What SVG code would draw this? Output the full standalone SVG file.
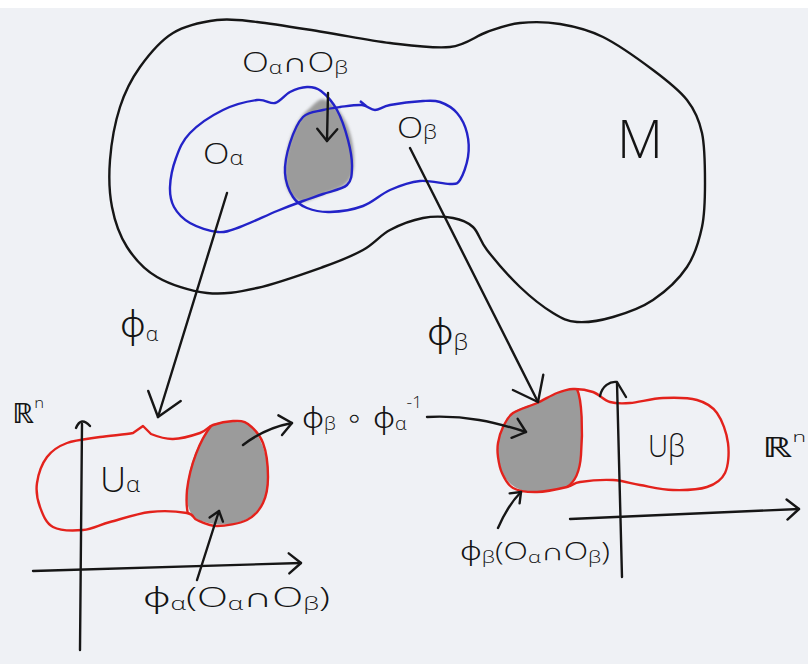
<svg xmlns="http://www.w3.org/2000/svg" width="808" height="664" viewBox="0 0 808 664">
<style>
.ink{fill:none;stroke:#161616;stroke-width:2.4;stroke-linecap:round;stroke-linejoin:round}
.blue{fill:none;stroke:#2323c8;stroke-width:2.4;stroke-linejoin:round}
.red{fill:none;stroke:#e3221c;stroke-width:2.4;stroke-linejoin:round}
.shade{fill:#9b9b9b;stroke:none}
.t{font-family:"Open Sans","Noto Sans","DejaVu Sans",sans-serif;font-weight:300;fill:#141414}
.light{font-family:"Open Sans","Noto Sans","DejaVu Sans",sans-serif;font-weight:300;fill:#141414}
</style>
<defs>
<marker id="big" markerUnits="userSpaceOnUse" orient="auto" markerWidth="40" markerHeight="40" refX="0" refY="0" overflow="visible">
<path d="M-22,-17 L0,0 L-22,17" fill="none" stroke="#161616" stroke-width="2.4" stroke-linecap="round" stroke-linejoin="round"/>
</marker>
<marker id="mid" markerUnits="userSpaceOnUse" orient="auto" markerWidth="30" markerHeight="30" refX="0" refY="0" overflow="visible">
<path d="M-12,-10 L0,0 L-12,10" fill="none" stroke="#161616" stroke-width="2.4" stroke-linecap="round" stroke-linejoin="round"/>
</marker>
<marker id="small" markerUnits="userSpaceOnUse" orient="auto" markerWidth="20" markerHeight="20" refX="0" refY="0" overflow="visible">
<path d="M-9,-7 L0,0 L-9,7" fill="none" stroke="#161616" stroke-width="2.4" stroke-linecap="round" stroke-linejoin="round"/>
</marker>
<filter id="soft" x="-20%" y="-20%" width="140%" height="140%"><feGaussianBlur stdDeviation="1.6"/></filter>
</defs>
<rect x="0" y="0" width="808" height="664" fill="#eff1f5"/>
<rect x="0" y="0" width="808" height="8" fill="#ffffff"/>

<g id="manifold-M">
<path class="ink" d="M217,20 C231,18.2 239.3,20 257,22 S300.8,28.5 323,32 S368.8,40.5 390,43 S433.8,48.8 450,47 S475.3,36 487,32 S507.8,24.3 520,23 S546.2,21.7 560,24 S587.5,29.3 603,37 S639,59.5 653,70 S678.8,89.5 687,100 S699,119.2 702,133 S705,167.3 705,183 S705,213 702,227 S695.2,254.8 687,267 S665.3,291.7 653,300 S625.7,313.3 613,317 S587,322.7 577,322 S562.5,318.8 553,313 S531,297.5 520,287 S494.8,260 487,250 S478.7,232.3 473,227 S461.3,219.5 453,218 S433.5,216 423,218 S400,224.7 390,230 S374.2,243.8 363,250 S340.7,260.7 323,267 S276.3,283.7 257,288 S223.7,294.8 207,293 S170.3,284.7 157,277 S134.5,258.7 127,247 S114.8,221.5 112,207 S108.7,176.7 110,160 S115,122.5 120,107 S131.2,79.3 140,67 S160.2,40.8 173,33 S203,21.8 217,20 Z"/>
<text class="light" x="617" y="158" font-size="54" textLength="46" lengthAdjust="spacingAndGlyphs">M</text>
</g>

<g id="intersection-shade">
<path class="shade" filter="url(#soft)" d="M323,99 C340,104 354,130 354,160 C354,178 349,186 330,192 C315,197 305,203 300,202 C290,198 284,185 285,170 C286,145 295,120 310,108 C315,103 319,99 323,99 Z"/>
</g>

<g id="O-alpha">
<path class="blue" d="M170,187 C170.3,178.8 172.7,167 176,158 S182.2,141 190,133 S211.8,115.5 223,110 S248.3,101.2 257,100 S269.5,104.3 275,103 S284.7,94.7 290,92 S301.8,87.2 307,87 S316,87.2 321,91 S332.5,101.8 337,110 S345.5,130.5 348,140 S352.2,159.5 352,167 S351.8,180.5 347,185 S330.3,191.3 323,194 S310.7,198.2 303,201 S287.5,206.7 277,211 S249.8,223.5 240,227 S226.3,232.7 218,232 S197.3,227.2 190,223 S177.3,213 174,207 S169.7,195.2 170,187 Z"/>
<text class="t" x="203" y="164" font-size="30" textLength="40" lengthAdjust="spacingAndGlyphs">O<tspan font-size="20" dy="1">α</tspan></text>
</g>

<g id="O-beta">
<path class="blue" d="M323,110 C329.2,108.3 333.5,107.8 340,107 S356.2,104.5 362,105 S370.3,110 375,110 S382,106.5 390,105 S414.7,101.5 423,101 S434.3,100 440,102 S452.5,107.8 457,113 S465.2,125.7 467,133 S469.2,149.2 468,157 S463,175.5 460,180 S456.7,183.8 450,184 S430,180 420,181 S399.5,185.8 390,190 S373,202.3 363,206 S339.3,211.7 330,212 S313.2,210.5 307,208 S296.7,202.8 293,197 S285.5,182 285,173 S287,152.3 290,143 S297.5,122.5 303,117 S316.8,111.7 323,110 Z"/>
<path class="blue" d="M360,101 L366,106"/>
<text class="t" x="397" y="138" font-size="30" textLength="40" lengthAdjust="spacingAndGlyphs">O<tspan font-size="20" dy="1">β</tspan></text>
</g>

<g id="intersection-label">
<text class="t" x="242" y="72" font-size="28" textLength="106" lengthAdjust="spacingAndGlyphs">O<tspan font-size="18" dy="2">α</tspan><tspan dy="-2">∩O</tspan><tspan font-size="18" dy="2">β</tspan></text>
</g>

<g id="U-alpha">
<path class="shade" d="M213,424 C225,420 242,419 250,425 C262,437 269,460 268,480 C267,500 258,516 240,522 C225,527 205,524 195,518 C188,512 186,500 187,488 C189,465 198,440 213,424 Z"/>
<path class="red" d="M151,434 C156,436 164.8,439.2 173,439 S193.3,435.3 200,433 S207.5,427 213,425 S227.2,421.2 233,421 S243,420.3 248,424 S259.7,434.2 263,443 S268,467 268,477 S266.5,495.8 263,503 S254.7,516.2 247,520 S225.3,526 217,526 S202,522.2 197,520 S194.8,514.3 187,513 S162.8,510.5 150,512 S121.2,519 110,522 S92.5,529.2 83,530 S60.2,530.8 53,527 S42.7,514.3 40,507 S35.8,491.3 37,483 S42,463.7 47,457 S58.2,446.3 67,443 S89,438.7 100,437 S125.8,434.7 133,433 L143,426 Z"/>
<path class="red" d="M211,426 C200,440 190,465 187,490 C186,502 187,510 188,514"/>
<text class="t" x="100" y="492" font-size="34" textLength="40" lengthAdjust="spacingAndGlyphs">U<tspan font-size="22">α</tspan></text>
</g>

<g id="axes-left">
<path class="ink" d="M80,650 L82,424"/>
<path class="ink" d="M76,428 Q81,416 90,426"/>
<path class="ink" d="M33,571 L301,563" marker-end="url(#mid)"/>
<text class="t" x="12" y="423" font-size="28" textLength="32" lengthAdjust="spacingAndGlyphs">ℝ<tspan font-size="15" dy="-15">n</tspan></text>
</g>

<g id="U-beta">
<path class="shade" d="M537,403 C550,396 562,390 577,389 C582,400 583,430 581,455 C580,470 575,482 567,487 C555,491 540,493 525,491 C510,488 500,475 498,457 C497,440 503,420 515,411 C522,407 530,405 537,403 Z"/>
<path class="red" d="M498,443 C498.8,438 500.5,432 503,427 S507.3,417 513,413 S529.7,406.3 537,403 S551,395.3 557,393 S567,389.2 573,389 S586.8,389.8 593,392 S603.8,400.2 610,402 S621.2,403.7 630,403 S651.8,398.5 663,398 S688,397.5 697,400 S711.8,405.8 717,413 S726.7,433 728,443 S728.5,465.7 725,473 S715.7,484.2 707,487 S684.2,490.3 673,490 S650,486.7 640,485 S623,480.5 613,480 S587.7,480.8 580,482 S574.2,485.3 567,487 S546,491.8 537,492 S518.8,491.2 513,488 S504.5,478.2 502,473 S498.7,462 498,457 S497.2,448 498,443 Z"/>
<path class="red" d="M577,389 C582,400 583,430 581,455 C580,470 575,482 567,487"/>
<text class="t" x="648" y="457" font-size="32" textLength="37" lengthAdjust="spacingAndGlyphs">Uβ</text>
</g>

<g id="axes-right">
<path class="ink" d="M622,577 L617,383"/>
<path class="ink" d="M600,396 C602,386 610,381 617,382 L626,397"/>
<path class="ink" d="M570,519 L799,509" marker-end="url(#mid)"/>
<text class="t" x="762" y="457" font-size="28" textLength="44" lengthAdjust="spacingAndGlyphs">ℝ<tspan font-size="15" dy="-15">n</tspan></text>
</g>

<g id="labels">
<text class="t" x="120" y="337" font-size="36" textLength="38" lengthAdjust="spacingAndGlyphs">ϕ<tspan font-size="20" dy="4">α</tspan></text>
<text class="t" x="427" y="345" font-size="36" textLength="41" lengthAdjust="spacingAndGlyphs">ϕ<tspan font-size="22" dy="5">β</tspan></text>
<text class="t" x="143" y="607" font-size="28" textLength="187" lengthAdjust="spacingAndGlyphs">ϕ<tspan font-size="18" dy="3">α</tspan><tspan dy="-3">(O</tspan><tspan font-size="18" dy="3">α</tspan><tspan dy="-3">∩O</tspan><tspan font-size="18" dy="3">β</tspan><tspan dy="-3">)</tspan></text>
<text class="t" x="302" y="428" font-size="30" textLength="120" lengthAdjust="spacingAndGlyphs">ϕ<tspan font-size="18" dy="2">β</tspan><tspan dy="-2"> ∘ ϕ</tspan><tspan font-size="18" dy="2">α</tspan><tspan font-size="16" dy="-22">-1</tspan></text>
<text class="t" x="460" y="560" font-size="25" textLength="150" lengthAdjust="spacingAndGlyphs">ϕ<tspan font-size="17" dy="3">β</tspan><tspan dy="-3">(O</tspan><tspan font-size="17" dy="3">α</tspan><tspan dy="-3">∩O</tspan><tspan font-size="17" dy="3">β</tspan><tspan dy="-3">)</tspan></text>
</g>

<g id="connectors">
<path class="ink" d="M328,93 L327,141" marker-end="url(#mid)"/>
<path class="ink" d="M227,193 L158,417" marker-end="url(#big)"/>
<path class="ink" d="M410,148 L538,402" marker-end="url(#big)"/>
<path class="ink" d="M197,580 L219,511" marker-end="url(#small)"/>
<path class="ink" d="M243,445 Q265,428 292,423" marker-end="url(#mid)"/>
<path class="ink" d="M427,417 C465,415 495,422 526,432" marker-end="url(#mid)"/>
<path class="ink" d="M498,528 Q508,505 521,492" marker-end="url(#small)"/>
</g>
</svg>
